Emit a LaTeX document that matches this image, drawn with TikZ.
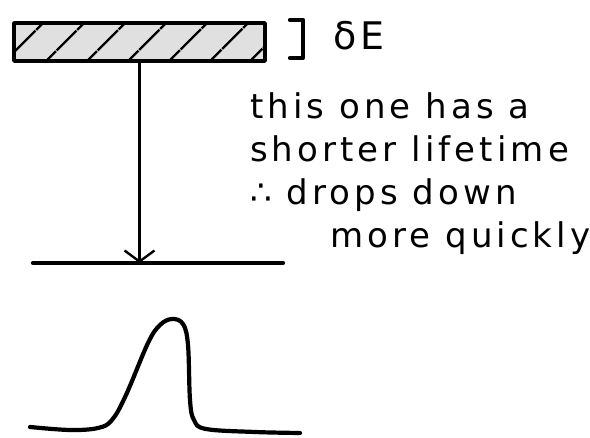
\documentclass[tikz,border=0pt]{standalone}
\usepackage{fontspec}
\newfontfamily\handfont[LetterSpace=12]{DejaVu Sans}
\usetikzlibrary{arrows.meta,patterns.meta}
\begin{document}
\begin{tikzpicture}[x=1pt,y=-1pt,line cap=round,line join=round,
    level/.style={draw,line width=3.6pt,minimum width=251pt,
      minimum height=38pt,inner sep=0pt,preaction={fill=black!12},
      pattern={Lines[angle=45,distance=30pt,line width=2.6pt]}},
    hand/.style={font=\handfont\fontsize{34}{43}\selectfont,
      inner sep=0pt,align=left},
    thickline/.style={line width=4.2pt}]
    \useasboundingbox (0,0) rectangle (590,438);
    % upper level, broadened by delta E
    \node[level] (upper) at (139.5,42) {};
    \draw[thickline] (290,20) -- (303,20) -- (303,58) -- (290,58);
    \node[hand,font=\handfont\fontsize{38}{43}\selectfont,
      anchor=base west] (width) at (333,50) {δE};

    % lower level and the decay
    \coordinate (lowL) at (33,263);
    \coordinate (lowR) at (283,263);
    \draw[thickline] (lowL) -- (lowR);
    \draw[line width=2.4pt,-{Straight Barb[length=11pt,width=30pt]}]
        (upper.south) -- (upper.south |- lowL);

    \node[hand,anchor=north west] (note) at (250,92)
        {this one has a\\shorter lifetime\\∴ drops down\\
         \hspace*{80pt}more quickly};

    % line shape
    \draw[thickline] plot[smooth,tension=0.6] coordinates {
        (30,427) (70,430) (98,428) (112,420) (126,395) (148,343)
        (160,325) (172,319) (183,324) (188,345) (190,400) (194,420)
        (206,429) (255,432) (300,433)};
\end{tikzpicture}
\end{document}
